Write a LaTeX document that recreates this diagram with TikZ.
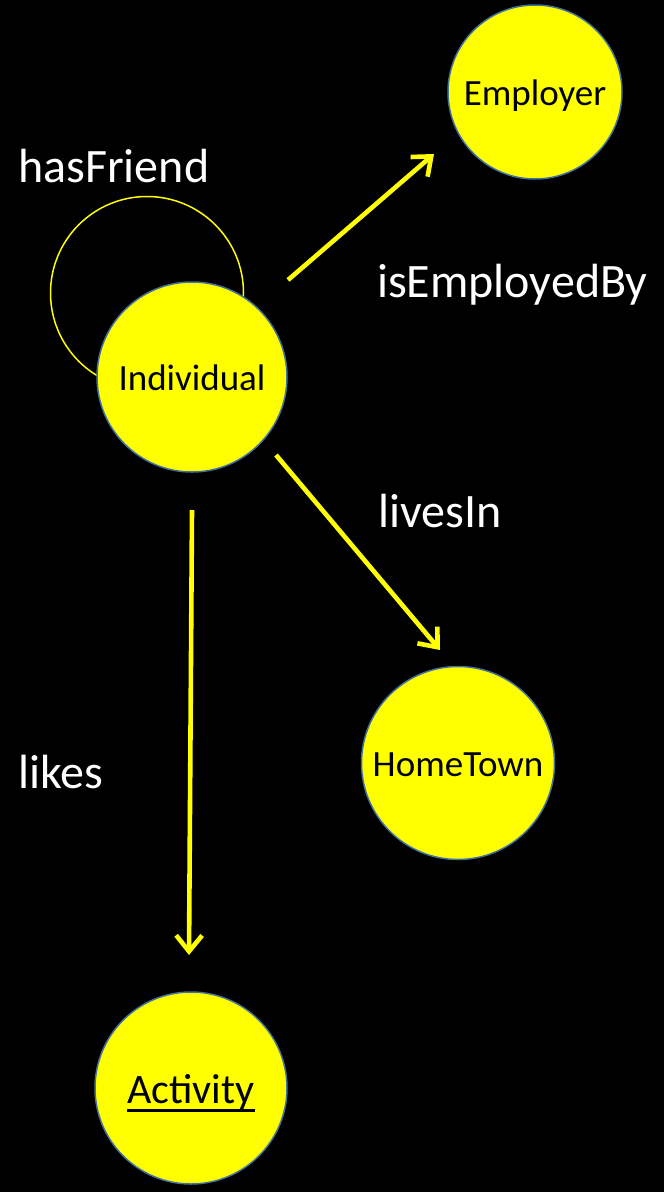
\documentclass[tikz,border=0pt]{standalone}
\usepackage{fontspec}
\setmainfont{Carlito}
\usetikzlibrary{arrows.meta}
\definecolor{ylw}{RGB}{255,255,0}
\definecolor{rim}{RGB}{65,113,156}
\newcommand\myul[1]{\setbox0\hbox{#1}\rlap{\vrule height -6pt depth 9pt width \wd0}\box0}
\tikzset{
  ent/.style={circle, fill=ylw, draw=rim, line width=1.5pt, inner sep=0pt,
    font=\fontsize{37}{44}\selectfont, text=black, text height=26pt, text depth=0pt},
  rel/.style={draw=ylw, line width=4.6pt, -{Straight Barb[length=16pt,width=26pt]}},
  lbl/.style={anchor=base west, inner sep=0pt, text=white,
    font=\fontsize{48}{57}\selectfont},
}
\begin{document}
\begin{tikzpicture}[x=1pt,y=-1pt]
\fill[black] (0,0) rectangle (664,1192);
\useasboundingbox (0,0) rectangle (664,1192);
% self loop circle (behind Individual)
\node[circle, draw=ylw, line width=1.5pt, minimum size=193pt, inner sep=0pt] (loop) at (147,293) {};
% entities
\node[ent, minimum size=190pt] (ind) at (192,377) {Individual};
\node[ent, minimum size=174pt] (emp) at (535,92) {Employer};
\node[ent, minimum size=193pt] (home) at (458,763) {HomeTown};
\node[ent, minimum size=192pt, font=\fontsize{42}{50}\selectfont, text height=30pt] (act) at (191,1088) {\myul{Activity}};
% connector end points
\coordinate (empS) at (288,280);
\coordinate (empT) at (434,154);
\coordinate (homeS) at (276,455);
\coordinate (homeT) at (440,650);
\coordinate (actS) at (192,510);
\coordinate (actT) at (189,955);
\draw[rel] (empS) -- (empT);
\draw[rel] (homeS) -- (homeT);
\draw[rel] (actS) -- (actT);
% labels
\node[lbl] (lfriend) at (18,182) {hasFriend};
\node[lbl] (lemp) at (377,297) {isEmployedBy};
\node[lbl] (llive) at (378,527) {livesIn};
\node[lbl] (llike) at (18,788) {likes};
\end{tikzpicture}
\end{document}
